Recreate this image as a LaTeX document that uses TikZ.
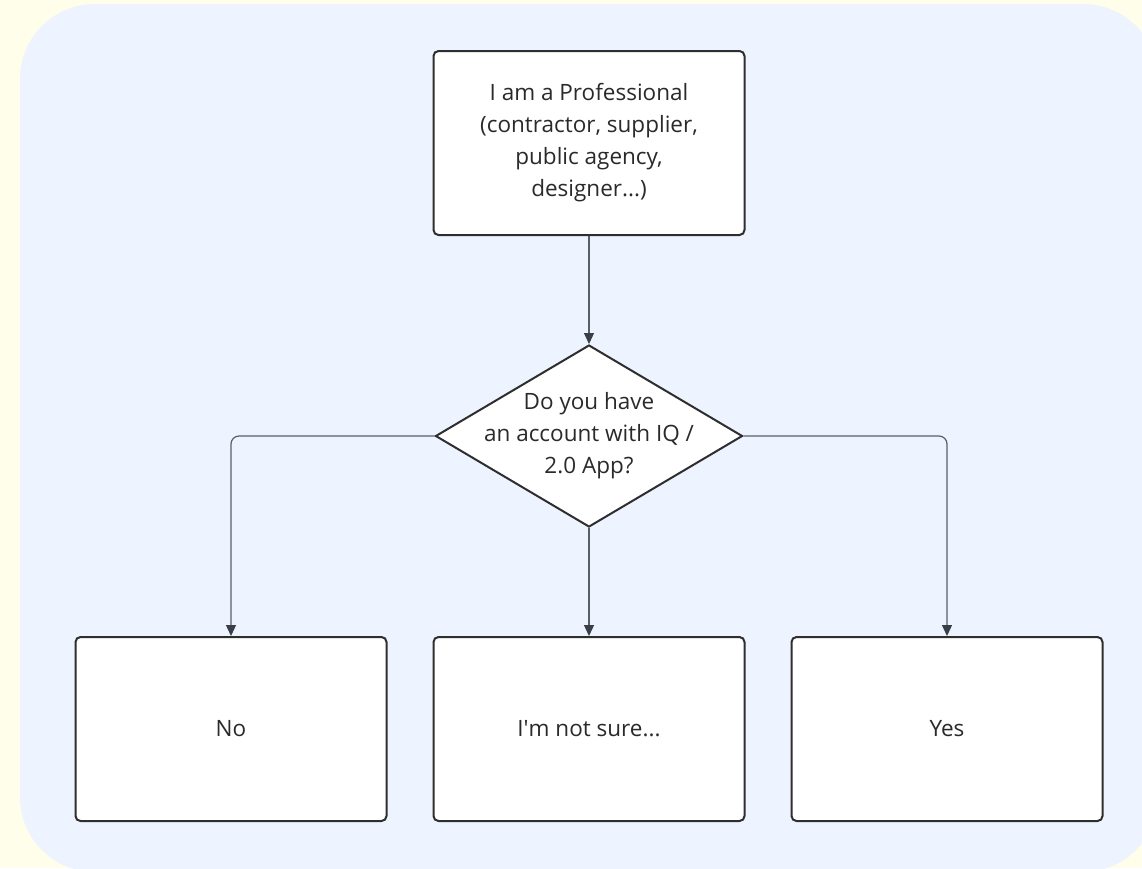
\documentclass[tikz,border=0pt]{standalone}
\usepackage{fontspec}
\setmainfont{Open Sans}
\usetikzlibrary{shapes.geometric,arrows.meta}
\definecolor{paper}{HTML}{FFFEEA}
\definecolor{panel}{HTML}{EDF3FF}
\definecolor{edge}{HTML}{2E2E2E}
\definecolor{wire}{HTML}{5A5F66}
\definecolor{tip}{HTML}{3A3F47}
\definecolor{ink}{HTML}{2A2A2A}
\tikzset{
  box/.style={draw=edge, line width=2pt, fill=white, rounded corners=5pt,
    minimum width=311pt, minimum height=184pt, inner sep=0pt,
    align=center, text=ink, font=\fontsize{22.5}{32}\selectfont},
  decision/.style={diamond, draw=edge, line width=2pt, fill=white,
    minimum width=307pt, minimum height=182pt, inner sep=0pt},
  lbl/.style={align=center, text=ink, font=\fontsize{22.5}{32}\selectfont},
  link/.style={draw=wire, line width=1.2pt, rounded corners=8pt,
    -{Triangle[length=11pt,width=10pt,color=tip]}}
}
\begin{document}
\begin{tikzpicture}[x=1pt,y=-1pt]
  \fill[paper] (0,0) rectangle (1142,868);
  \useasboundingbox (0,0) rectangle (1142,868);
  \fill[panel, rounded corners=75pt] (20,4) rectangle (1158,872);
  % nodes
  \node[box] (pro) at (589,143) {I am a Professional\\(contractor, supplier,\\public agency,\\designer...)};
  \node[decision] (ask) at (589,436) {};
  \node[lbl] at (ask) {Do you have\\an account with IQ /\\2.0 App?};
  \node[box] (no) at (231,729) {No};
  \node[box] (maybe) at (589,729) {I\textquotesingle m not sure...};
  \node[box] (yes) at (947,729) {Yes};
  % connectors
  \draw[link] (pro) -- (ask);
  \draw[link] (ask.west) -| (no.north);
  \draw[link] (ask.south) -- (maybe.north);
  \draw[link] (ask.east) -| (yes.north);
\end{tikzpicture}
\end{document}
